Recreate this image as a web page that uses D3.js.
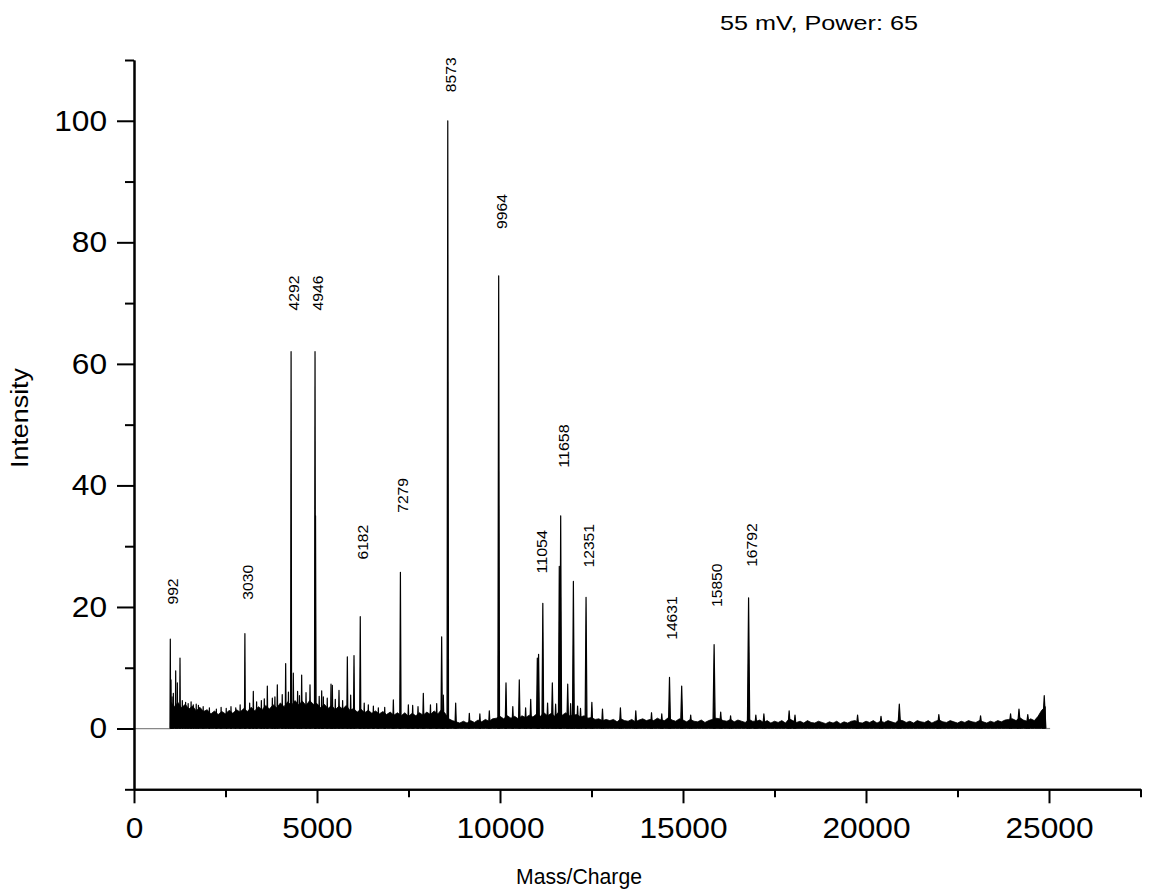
<!DOCTYPE html>
<html>
<head>
<meta charset="utf-8">
<script src="https://cdn.jsdelivr.net/npm/d3@7"></script>
<style>
  body { margin: 0; background: #fff; }
  svg { display: block; font-family: "Liberation Sans", Arial, sans-serif; }
</style>
</head>
<body>
<div id="chart"></div>
<script>
// Annotated peaks and the intensity level where each label starts
const labelMz = [992, 3030, 4292, 4946, 6182, 7279, 8573, 9964, 11054, 11658, 12351, 14631, 15850, 16792];
const labelLevel = [20.4, 21.2, 68.8, 68.8, 27.8, 35.5, 104.7, 82.2, 25.5, 42.9, 26.5, 14.6, 20.0, 26.6];

// Spikes standing out of the noise: [m/z, intensity]
const peaks = [
    [992, 14.7], [1010, 8.0], [1040, 5.2], [1075, 5.8], [1139, 9.5], [1184, 7.5], [1257, 11.6],
    [1320, 4.6], [1410, 4.3], [1480, 4.1], [1560, 4.4], [1620, 3.9], [1700, 4.0], [1760, 3.8],
    [1890, 3.6], [2060, 3.4], [2250, 3.2], [2380, 3.5], [2520, 3.3], [2650, 3.6],
    [2780, 3.4], [2900, 3.9], [3030, 15.6], [3160, 4.2], [3260, 6.1], [3350, 4.4], [3480, 4.6],
    [3560, 4.9], [3643, 7.0], [3780, 5.0], [3850, 5.2],
    [3916, 7.2], [4050, 5.6], [4144, 10.7], [4220, 6.0], [4292, 62],
    [4353, 9.1], [4470, 6.1], [4520, 5.4], [4581, 8.8], [4700, 5.9], [4809, 7.2], [4946, 62], [4960, 35],
    [5060, 5.3], [5128, 6.2], [5173, 5.2], [5280, 5.0], [5383, 7.3], [5419, 7.1], [5500, 4.8],
    [5601, 6.3], [5700, 4.6], [5829, 11.8], [5920, 5.5], [6011, 12.0], [6182, 18.4], [6290, 4.2],
    [6402, 3.9], [6540, 3.7], [6676, 3.4], [6850, 3.5], [7086, 4.7],
    [7279, 25.7], [7496, 3.9], [7614, 3.8], [7760, 3.6], [7905, 5.8], [8100, 3.9], [8270, 4.1],
    [8406, 15.1], [8451, 5.5],
    [8573, 100], [8789, 4.2], [9162, 2.5], [9450, 2.4], [9708, 2.9], [9964, 74.5], [10164, 7.5],
    [10350, 3.6], [10527, 8.0], [10700, 3.4], [10839, 4.8], [11020, 11.6], [11054, 12.2],
    [11170, 20.6], [11300, 4.2], [11430, 7.5], [11520, 4.0],
    [11620, 26.7], [11658, 35], [11850, 7.3], [11930, 4.1], [12005, 24.2], [12120, 3.7],
    [12200, 3.3], [12351, 21.6], [12510, 4.3],
    [12800, 3.2], [13290, 3.4], [13710, 2.9], [14140, 2.6], [14420, 2.4], [14631, 8.4],
    [14964, 7.0], [15210, 2.2], [15850, 13.8], [16030, 2.7], [16300, 2.1], [16792, 21.5],
    [16990, 2.2], [17210, 2.4], [17900, 2.9], [18060, 2.2], [19770, 2.2], [20410, 2.0],
    [20910, 4.0], [21990, 2.3], [23130, 2.1], [23950, 2.4], [24180, 3.2], [24420, 2.3],
    [24870, 5.4]
];

// Upper edge of the noise band, read every 100 m/z from 1000 to 24900
const noiseTop = [
    4.4, 3.6, 4.3, 3.4, 4.0, 3.2, 3.7, 2.9, 3.5, 2.8,
    3.1, 2.4, 2.9, 2.3, 2.8, 2.4, 3.0, 2.5, 3.1, 2.7,
    3.3, 2.8, 3.5, 2.9, 3.6, 3.1, 3.8, 3.2, 3.9, 3.4,
    4.2, 3.6, 4.4, 3.8, 4.6, 3.9, 4.5, 3.8, 4.6, 4.0,
    4.1, 3.4, 4.0, 3.3, 3.8, 3.1, 3.7, 3.2, 3.8, 3.0,
    3.3, 2.7, 3.2, 2.6, 3.0, 2.5, 2.9, 2.4, 2.8, 2.3,
    2.7, 2.2, 2.6, 2.1, 2.6, 2.0, 2.5, 2.1, 2.6, 2.2,
    2.7, 2.3, 2.9, 2.4, 3.1, 2.5, 1.6, 1.3, 1.1, 0.9,
    1.2, 0.9, 1.3, 1.0, 1.4, 1.1, 1.5, 1.2, 1.6, 1.7,
    2.0, 1.6, 2.1, 1.7, 2.0, 1.6, 2.1, 1.8, 2.2, 1.9,
    2.4, 2.0, 2.6, 2.1, 2.5, 2.0, 2.7, 2.2, 2.6, 2.1,
    2.2, 2.3, 1.9, 2.1, 1.7, 1.8, 1.5, 1.6, 1.3, 1.5,
    1.3, 1.5, 1.1, 1.6, 1.3, 1.2, 1.5, 1.1, 1.4, 1.6,
    1.3, 1.5, 1.3, 1.7, 1.4, 1.3, 1.8, 1.4, 1.2, 1.6,
    1.4, 1.1, 1.5, 1.2, 1.1, 1.4, 1.0, 1.3, 1.5, 1.7,
    1.6, 1.3, 1.2, 1.5, 1.1, 1.4, 1.2, 1.0, 1.5, 1.2,
    1.2, 1.4, 1.0, 1.3, 0.9, 1.2, 1.0, 1.3, 0.9, 1.6,
    1.3, 1.0, 1.2, 0.9, 1.3, 1.0, 0.9, 1.2, 1.0, 0.8,
    1.1, 0.9, 1.2, 0.8, 1.1, 0.9, 1.2, 1.3, 1.0, 0.9,
    1.2, 1.0, 1.3, 0.9, 1.2, 1.0, 1.3, 1.1, 0.9, 1.4,
    1.3, 1.0, 1.2, 0.9, 1.3, 1.1, 1.0, 1.3, 0.9, 1.2,
    1.4, 1.1, 1.0, 1.3, 1.1, 0.9, 1.2, 1.0, 1.3, 1.1,
    1.0, 1.3, 1.1, 0.9, 1.2, 1.0, 1.3, 1.1, 1.4, 1.5,
    1.6, 1.3, 1.8, 1.4, 1.2, 1.6, 1.3, 2.0, 3.0, 3.6
];
const noiseMz = d3.range(1000, 25000, 100);

// flat zero stretches before the first and after the last sample
const flatSegments = [[0, 992], [24910, 25030]];

const xMajor = [0, 5000, 10000, 15000, 20000, 25000];
const xMinor = [2500, 7500, 12500, 17500, 22500, 27500];
const yMajor = [0, 20, 40, 60, 80, 100];
const yMinor = [-10, 10, 30, 50, 70, 90, 110];

const width = 1150, height = 892;
const svg = d3.select("#chart").append("svg")
    .attr("width", width)
    .attr("height", height);

const x = d3.scaleLinear().domain([0, 27500]).range([134, 1140.5]);
const y = d3.scaleLinear().domain([-10, 110]).range([789.3, 60]);

// zero line where there is no signal
const flatLine = d3.line().x(d => x(d)).y(() => y(0));
flatSegments.forEach(seg => {
    svg.append("path")
        .attr("d", flatLine(seg))
        .attr("fill", "none")
        .attr("stroke", "#888")
        .attr("stroke-width", 1.2);
});

// noise band
const band = d3.area()
    .x((d, i) => x(noiseMz[i]))
    .y0(y(0))
    .y1(d => y(d));
svg.append("path")
    .attr("d", band(noiseTop))
    .attr("fill", "#000")
    .attr("stroke", "#000")
    .attr("stroke-width", 0.8)
    .attr("stroke-linejoin", "round");

// peaks as narrow spikes, a little wider at high mass
const spike = d3.line().x(d => x(d[0])).y(d => y(d[1]));
svg.append("g").selectAll("path")
    .data(peaks)
    .join("path")
    .attr("d", d => {
        const w = 8 + d[0] * 0.0015;
        return spike([[d[0] - w, 0], [d[0], d[1]], [d[0] + w, 0]]);
    })
    .attr("fill", "#000")
    .attr("stroke", "#000")
    .attr("stroke-width", 1.2)
    .attr("stroke-linejoin", "round");

// peak labels
svg.append("g").selectAll("text")
    .data(labelMz)
    .join("text")
    .attr("transform", (d, i) => `translate(${x(d) + 8},${y(labelLevel[i])}) rotate(-90)`)
    .attr("font-size", 15)
    .attr("textLength", d => String(d).length * 8.7)
    .attr("lengthAdjust", "spacingAndGlyphs")
    .attr("fill", "#000")
    .text(d => d);

// axes
function styleAxis(g) {
    g.selectAll("path, line").attr("stroke", "#000").attr("stroke-width", 2);
    g.selectAll("text")
        .attr("font-size", 29)
        .attr("fill", "#000")
        .attr("font-family", "Liberation Sans, Arial, sans-serif")
        .attr("lengthAdjust", "spacingAndGlyphs")
        .attr("textLength", function () { return this.textContent.length * 17.6; });
}

svg.append("g")
    .attr("transform", `translate(0,${y(-10)})`)
    .call(d3.axisBottom(x).tickValues(xMinor).tickSize(8).tickSizeOuter(0).tickFormat(""))
    .call(styleAxis);
svg.append("g")
    .attr("transform", `translate(0,${y(-10)})`)
    .call(d3.axisBottom(x).tickValues(xMajor).tickSize(14).tickSizeOuter(0).tickPadding(14).tickFormat(d3.format("d")))
    .call(styleAxis);

svg.append("g")
    .attr("transform", `translate(${x(0)},0)`)
    .call(d3.axisLeft(y).tickValues(yMinor).tickSize(9).tickSizeOuter(0).tickFormat(""))
    .call(styleAxis);
svg.append("g")
    .attr("transform", `translate(${x(0)},0)`)
    .call(d3.axisLeft(y).tickValues(yMajor).tickSize(17).tickSizeOuter(0).tickPadding(10))
    .call(styleAxis);

// titles
svg.append("text")
    .attr("x", 720)
    .attr("y", 30)
    .attr("font-size", 21)
    .attr("textLength", 198)
    .attr("lengthAdjust", "spacingAndGlyphs")
    .text("55 mV, Power: 65");

svg.append("text")
    .attr("x", 516)
    .attr("y", 884)
    .attr("font-size", 22)
    .attr("textLength", 126)
    .attr("lengthAdjust", "spacingAndGlyphs")
    .text("Mass/Charge");

svg.append("text")
    .attr("transform", "translate(28,418) rotate(-90)")
    .attr("text-anchor", "middle")
    .attr("font-size", 23)
    .attr("textLength", 100)
    .attr("lengthAdjust", "spacingAndGlyphs")
    .text("Intensity");
</script>
</body>
</html>
